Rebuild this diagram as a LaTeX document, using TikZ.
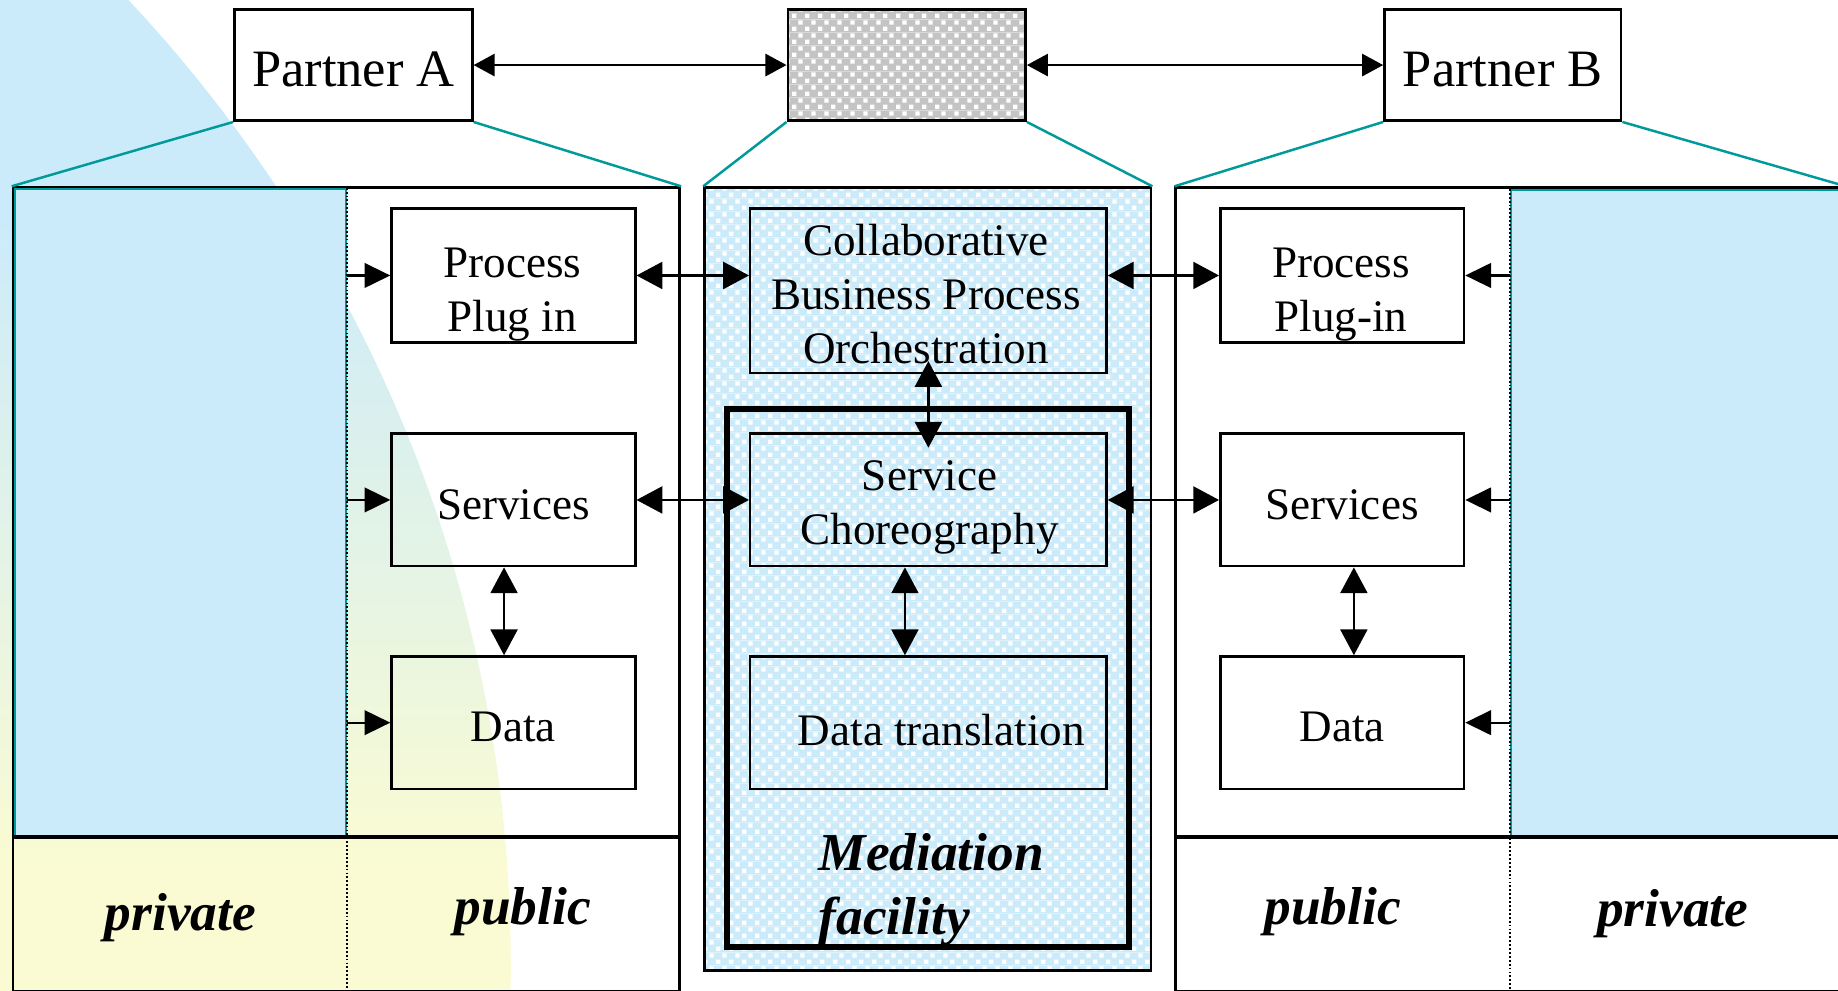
\documentclass[tikz,border=0pt]{standalone}
\usepackage{fontspec}
\setmainfont{Liberation Serif}
\usetikzlibrary{arrows.meta,patterns}

\definecolor{linkteal}{HTML}{009A9A}
\definecolor{skyfill}{HTML}{CCEBFA}
\definecolor{paleyellow}{HTML}{FAFBD2}
\definecolor{chipgray}{HTML}{C4C4C4}

% checkered textures for the mediation column and the hub box
\pgfdeclarepatterninherentlycolored{graychecks}{\pgfpointorigin}{\pgfqpoint{6.2pt}{6.2pt}}{\pgfqpoint{6.2pt}{6.2pt}}{%
  \pgfsetfillcolor{chipgray}%
  \pgfpathrectangle{\pgfpointorigin}{\pgfqpoint{6.2pt}{6.2pt}}%
  \pgfusepath{fill}%
  \pgfsetfillcolor{white}%
  \pgfpathrectangle{\pgfqpoint{0.5pt}{0.5pt}}{\pgfqpoint{2.1pt}{2.1pt}}%
  \pgfpathrectangle{\pgfqpoint{3.6pt}{3.6pt}}{\pgfqpoint{2.1pt}{2.1pt}}%
  \pgfusepath{fill}%
}
\pgfdeclarepatterninherentlycolored{bluechecks}{\pgfpointorigin}{\pgfqpoint{6.2pt}{6.2pt}}{\pgfqpoint{6.2pt}{6.2pt}}{%
  \pgfsetfillcolor{skyfill}%
  \pgfpathrectangle{\pgfpointorigin}{\pgfqpoint{6.2pt}{6.2pt}}%
  \pgfusepath{fill}%
  \pgfsetfillcolor{white}%
  \pgfpathrectangle{\pgfqpoint{0.5pt}{0.5pt}}{\pgfqpoint{2.1pt}{2.1pt}}%
  \pgfpathrectangle{\pgfqpoint{3.6pt}{3.6pt}}{\pgfqpoint{2.1pt}{2.1pt}}%
  \pgfusepath{fill}%
}

\newcommand\partnerfont{\fontsize{25.5}{30}\selectfont}
\newcommand\boxfont{\fontsize{21.9}{26.2}\selectfont}
\newcommand\zonefont{\fontsize{25.9}{31}\selectfont\bfseries\itshape}
% lower a one-line box label a little without changing its size
\newcommand\lowered[1]{\raisebox{-0.08cm}[\height][\depth]{#1}}

\begin{document}
\begin{tikzpicture}[x=0.02cm, y=-0.02cm,
  panel/.style={draw, line width=1.3pt, inner sep=0pt},
  privzone/.style={draw=linkteal, fill=skyfill, line width=1pt, inner sep=0pt},
  box/.style={draw, line width=1.2pt, inner sep=0pt, align=center, font=\boxfont},
  boxtext/.style={inner sep=0pt, align=center, font=\boxfont},
  partner/.style={draw, line width=1.2pt, inner sep=0pt, font=\partnerfont,
    minimum height=1.9cm},
  zone/.style={inner sep=0pt, font=\zonefont},
  link/.style={draw=linkteal, line width=1.2pt},
  divider/.style={line width=0.9pt, densely dotted},
  arr/.style={line width=1.1pt, -{Triangle[length=0.44cm, width=0.42cm]}},
  dblarr/.style={line width=1.1pt,
    {Triangle[length=0.44cm, width=0.46cm]}-{Triangle[length=0.44cm, width=0.46cm]}},
  toparr/.style={line width=1.1pt,
    {Triangle[length=0.36cm, width=0.38cm]}-{Triangle[length=0.36cm, width=0.38cm]}}
]
\useasboundingbox (0,0) rectangle (1568,845);

% large background disc, sky blue fading into pale yellow
\begin{scope}
  \clip (0,0) rectangle (1568,845);
  \clip (-768,824) circle [radius=24.08cm];
  \fill[skyfill] (0,0) rectangle (1568,190);
  \shade[top color=skyfill, bottom color=paleyellow] (0,190) rectangle (1568,740);
  \fill[paleyellow] (0,740) rectangle (1568,845);
\end{scope}

% partner columns and mediation column
\node[panel, minimum width=11.38cm, minimum height=13.72cm] (panelA) at (295.5,503) {};
\node[privzone, minimum width=5.64cm, minimum height=11.04cm] (privA) at (154,437) {};
\node[panel, pattern=bluechecks, minimum width=7.62cm, minimum height=13.36cm] (panelM) at (791.5,494) {};
\node[draw, line width=2.8pt, inner sep=0pt, minimum width=6.86cm, minimum height=9.18cm] (medbox) at (791.5,578.5) {};
\node[panel, minimum width=11.38cm, minimum height=13.72cm] (panelB) at (1287.5,503) {};
\node[privzone, minimum width=5.66cm, minimum height=11.02cm] (privB) at (1430.5,437.5) {};

% private / public separation
\draw[divider] (privA.north east) -- (privA.north east |- panelA.south);
\draw[divider] (privB.north west) -- (privB.north west |- panelB.south);
\draw[line width=2pt] (panelA.west |- privA.south) -- (panelA.east |- privA.south);
\draw[line width=2pt] (panelB.west |- privB.south) -- (panelB.east |- privB.south);

% top row
\node[partner, minimum width=4.06cm] (partA) at (301.5,55.5) {\lowered{Partner A}};
\node[partner, minimum width=4.06cm, pattern=graychecks] (gate) at (773.5,55.5) {};
\node[partner, minimum width=4.04cm] (partB) at (1282,55.5) {\lowered{Partner B}};
\coordinate (rimB) at (1568,157);

% partner A public side
\node[box, minimum width=4.16cm, minimum height=2.28cm] (pA) at (438,235) {};
\node[boxtext] (pAt) at (437,251) {Process\\Plug in};
\node[box, minimum width=4.16cm, minimum height=2.26cm] (sA) at (438,426.5) {\lowered{Services}};
\node[box, minimum width=4.16cm, minimum height=2.26cm] (dA) at (438,616.5) {\lowered{Data}};

% mediation facility
\node[box, minimum width=6.08cm, minimum height=2.8cm] (collab) at (792,248) {};
\node[boxtext] (collabt) at (790,251) {Collaborative\\Business Process\\Orchestration};
\node[box, minimum width=6.08cm, minimum height=2.26cm] (chor) at (792,426.5) {};
\node[boxtext] (chort) at (793,433) {Service\\Choreography};
\node[box, minimum width=6.08cm, minimum height=2.26cm] (trans) at (792,616.5) {};
\node[boxtext] (transt) at (803,623) {Data translation};

% partner B public side
\node[box, minimum width=4.16cm, minimum height=2.28cm] (pB) at (1145,235) {};
\node[boxtext] (pBt) at (1144,251) {Process\\Plug-in};
\node[box, minimum width=4.16cm, minimum height=2.26cm] (sB) at (1145,426.5) {\lowered{Services}};
\node[box, minimum width=4.16cm, minimum height=2.26cm] (dB) at (1145,616.5) {\lowered{Data}};

% projection lines
\draw[link] (partA.south west) -- (panelA.north west);
\draw[link] (partA.south east) -- (panelA.north east);
\draw[link] (gate.south west) -- (panelM.north west);
\draw[link] (gate.south east) -- (panelM.north east);
\draw[link] (partB.south west) -- (panelB.north west);
\draw[link] (partB.south east) -- (rimB);

% top connectors
\draw[toparr] (partA.east) -- (gate.west);
\draw[toparr] (gate.east) -- (partB.west);

% private to public
\draw[arr] (privA.east |- pA.west) -- (pA.west);
\draw[arr] (privA.east |- sA.west) -- (sA.west);
\draw[arr] (privA.east |- dA.west) -- (dA.west);
\draw[arr] (privB.west |- pB.east) -- (pB.east);
\draw[arr] (privB.west |- sB.east) -- (sB.east);
\draw[arr] (privB.west |- dB.east) -- (dB.east);

% public to mediation
\draw[dblarr] (pA.east) -- (collab.west |- pA.east);
\draw[dblarr] (sA.east) -- (chor.west);
\draw[dblarr] (collab.east |- pB.west) -- (pB.west);
\draw[dblarr] (chor.east) -- (sB.west);

% vertical links
\draw[dblarr] ([xshift=-0.16cm]sA.south) -- ([xshift=-0.16cm]dA.north);
\draw[dblarr] ([xshift=0.2cm]sB.south) -- ([xshift=0.2cm]dB.north);
\draw[dblarr] ([yshift=0.22cm]collab.south) -- ([yshift=-0.26cm]chor.north);
\draw[dblarr] ([xshift=-0.4cm]chor.south) -- ([xshift=-0.4cm]trans.north);

% zone labels
\node[zone, anchor=base] (privAl) at (154,794) {private};
\node[zone, anchor=base] (pubAl) at (446,789) {public};
\node[zone, anchor=base] (pubBl) at (1137,789) {public};
\node[zone, anchor=base] (privBl) at (1427,790) {private};
\node[zone, anchor=base west] (medl1) at (698,743) {Mediation};
\node[zone, anchor=base west] (medl2) at (698,797) {facility};
\end{tikzpicture}
\end{document}
